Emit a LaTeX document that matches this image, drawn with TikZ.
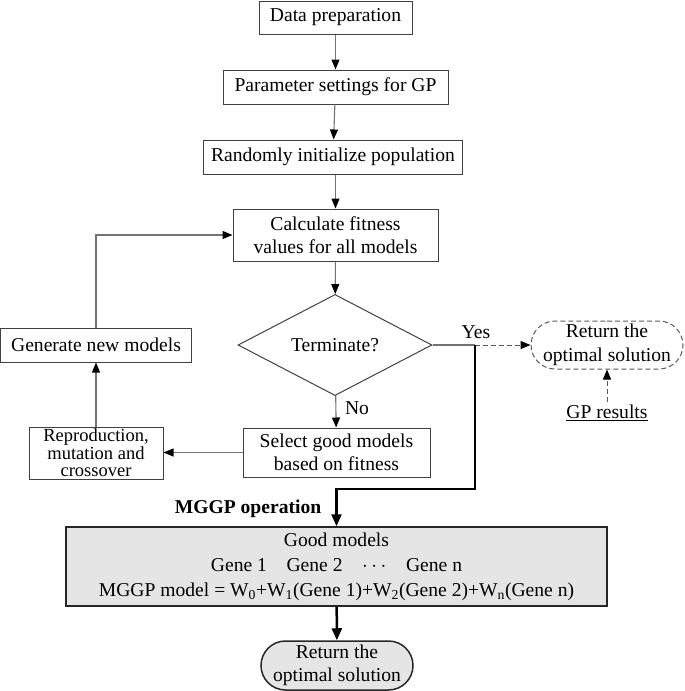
\documentclass[tikz,border=0pt]{standalone}
\usepackage{fontspec}
\setmainfont{Liberation Serif}
\usetikzlibrary{shapes.geometric,shapes.misc,arrows.meta}
\begin{document}
\begin{tikzpicture}[x=1pt,y=-1pt,
  txt/.style={font=\fontsize{19.6}{23.5}\selectfont},
  box/.style={txt, draw=black!75, line width=1pt, inner sep=0pt, align=center},
  tip/.style={-{Triangle[length=10pt,width=8pt,color=black,fill=black]}},
  conn/.style={draw=black!55, line width=1.1pt, tip},
  plain/.style={draw=black!55, line width=1.1pt},
  dconn/.style={draw=black!65, line width=1pt, dash pattern=on 5pt off 3pt, tip},
  thickconn/.style={draw=black, line width=2.5pt,
    -{Triangle[length=12pt,width=10pt,color=black,fill=black]}},
  shaded/.style={fill=black!10}
]
\useasboundingbox (0,0) rectangle (685,691);

\node[box, minimum width=153pt, minimum height=33pt] (dp) at (335.5,17.5) {Data preparation};
\node[box, minimum width=225pt, minimum height=34pt] (ps) at (335.5,87) {Parameter settings for GP};
\node[box, minimum width=259pt, minimum height=34pt] (ri) at (333,157) {Randomly initialize population};
\node[box, minimum width=205pt, minimum height=52pt] (cf) at (335.5,235) {Calculate fitness\\values for all models};
\node[box, diamond, minimum width=194pt, minimum height=97pt] (dm) at (335,345) {Terminate?};
\node[box, minimum width=187pt, minimum height=49pt] (sg) at (336.5,452.5) {Select good models\\based on fitness};
\node[box, minimum width=134pt, minimum height=52pt, font=\fontsize{18.5}{17.5}\selectfont] (rp) at (96,453) {Reproduction,\\mutation and\\crossover};
\node[box, minimum width=191pt, minimum height=34pt] (gn) at (96,345) {Generate new models};
\node[box, rounded rectangle, draw=black!65, dash pattern=on 5pt off 3pt, minimum width=152pt, minimum height=48pt] (rt) at (607,345) {Return the\\optimal solution};
\node[txt] (gp) at (607,413) {\underline{GP results}};
\node[box, shaded, line width=1.5pt, draw=black!85, minimum width=541pt, minimum height=79pt, font=\fontsize{19.6}{25}\selectfont] (gm) at (336.5,566.5)
  {Good models\\Gene 1\quad Gene 2\quad $\cdots$\quad Gene n\\MGGP model = W\textsubscript{0}+W\textsubscript{1}(Gene 1)+W\textsubscript{2}(Gene 2)+W\textsubscript{n}(Gene n)};
\node[box, rounded rectangle, shaded, line width=1.5pt, draw=black!85, minimum width=152pt, minimum height=49pt] (ro) at (337,665.5) {Return the\\optimal solution};
\node[txt, font=\fontsize{19.6}{23.5}\selectfont\bfseries] (mg) at (248,509) {MGGP operation};
\node[txt] (yes) at (476,332) {Yes};
\node[txt] (no) at (357,408) {No};

\coordinate (yj) at (475,345);
\coordinate (yb) at (475,489);

\draw[conn] (dp) -- (ps);
\draw[conn] (ps) -- (ri);
\draw[conn] (ri.south -| cf.north) -- (cf.north);
\draw[conn] (cf) -- (dm);
\draw[conn] (dm) -- (sg);
\draw[conn] (sg.west) -- (rp.east |- sg.west);
\draw[conn] (rp) -- (gn);
\draw[conn] (gn.north) |- (cf.west);
\draw[plain] (dm.east) -- (yj);
\draw[dconn] (yj) -- (rt.west);
\draw[dconn] (gp.north) -- (rt.south);
\draw[thickconn] (yj) |- (gm.north |- yb) -- (gm.north);
\draw[thickconn] (gm) -- (ro);
\end{tikzpicture}
\end{document}
